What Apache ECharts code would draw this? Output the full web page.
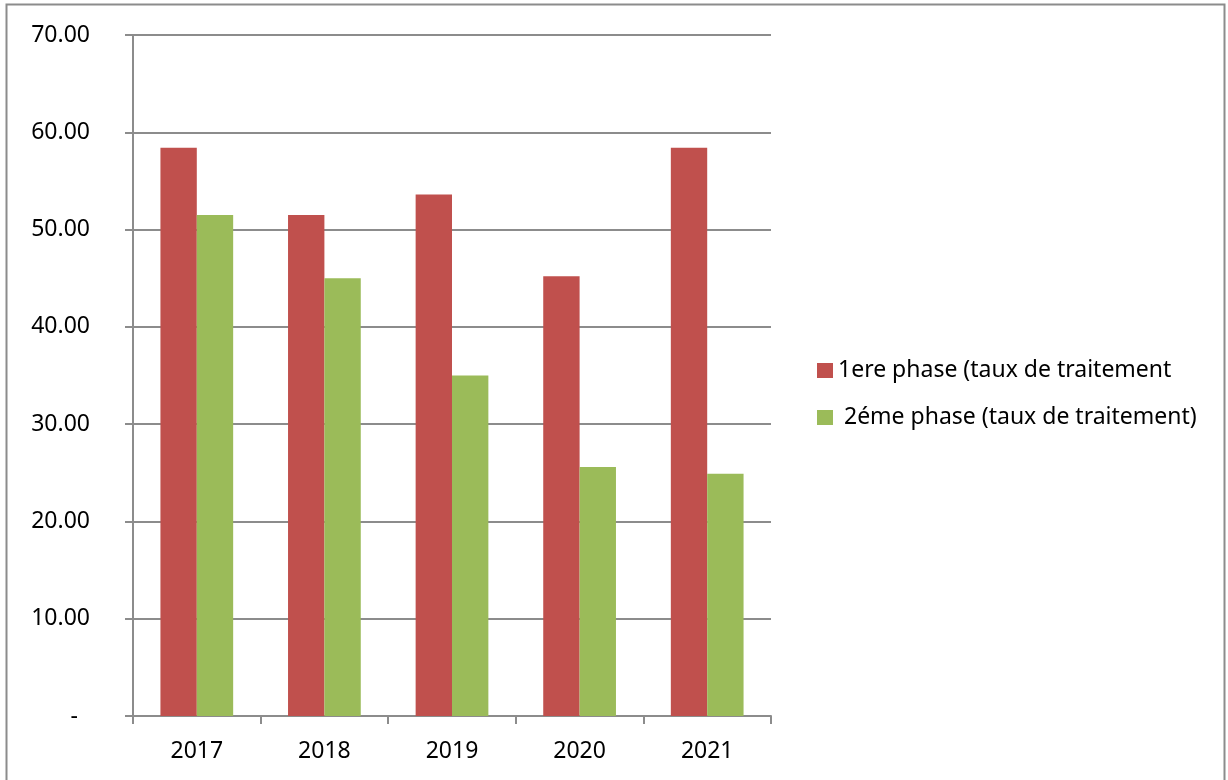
<!DOCTYPE html>
<html>
<head>
<meta charset="utf-8">
<script src="https://cdn.jsdelivr.net/npm/echarts@6/dist/echarts.min.js"></script>
<style>
  html, body { margin: 0; padding: 0; background: #fff; }
  #main { width: 1228px; height: 780px; }
</style>
</head>
<body>
<div id="main"></div>
<script>
// donnees
var annees = ['2017', '2018', '2019', '2020', '2021'];
var phase1 = [58.4, 51.5, 53.6, 45.2, 58.4];
var phase2 = [51.5, 45.0, 35.0, 25.6, 24.9];
var nomsSeries = ['1ere phase (taux de traitement', ' 2éme phase (taux de traitement)'];

var police = '"Noto Sans", "DejaVu Sans", sans-serif';
var gris = '#8c8c8c';

var myChart = echarts.init(document.getElementById('main'));
myChart.setOption({
    animation: false,
    textStyle: { fontFamily: police },
    graphic: [{
        type: 'rect',
        shape: { x: 6.5, y: 4.5, width: 1218, height: 790 },
        style: { fill: 'none', stroke: gris, lineWidth: 2 },
        silent: true
    }],
    grid: { left: 133, right: 457, top: 35, bottom: 64 },
    legend: {
        orient: 'vertical',
        left: 812,
        top: 354,
        itemWidth: 16,
        itemHeight: 15,
        itemGap: 24,
        icon: 'rect',
        textStyle: { fontFamily: police, fontSize: 23, color: '#000' },
        data: nomsSeries
    },
    xAxis: {
        type: 'category',
        data: annees,
        axisLine: { lineStyle: { color: gris, width: 2 } },
        axisTick: { show: true, length: 8, lineStyle: { color: gris, width: 2 } },
        axisLabel: { fontFamily: police, fontSize: 23, color: '#000', margin: 24 }
    },
    yAxis: {
        type: 'value',
        min: 0,
        max: 70,
        interval: 10,
        axisLine: { show: true, lineStyle: { color: gris, width: 2 } },
        axisTick: { show: true, length: 8, lineStyle: { color: gris, width: 2 } },
        splitLine: { lineStyle: { color: gris, width: 2 } },
        axisLabel: {
            fontFamily: police,
            fontSize: 23,
            color: '#000',
            margin: 43,
            formatter: function (v) {
                return v === 0 ? '{tiret|-}' : v.toFixed(2);
            },
            rich: { tiret: { fontFamily: police, fontSize: 23, color: '#000', padding: [0, 12, 0, 0] } }
        }
    },
    series: [{
        name: nomsSeries[0],
        type: 'bar',
        data: phase1,
        barGap: '0%',
        barCategoryGap: '43%',
        itemStyle: { color: '#c0504d' }
    }, {
        name: nomsSeries[1],
        type: 'bar',
        data: phase2,
        itemStyle: { color: '#9bbb59' }
    }]
});
</script>
</body>
</html>
